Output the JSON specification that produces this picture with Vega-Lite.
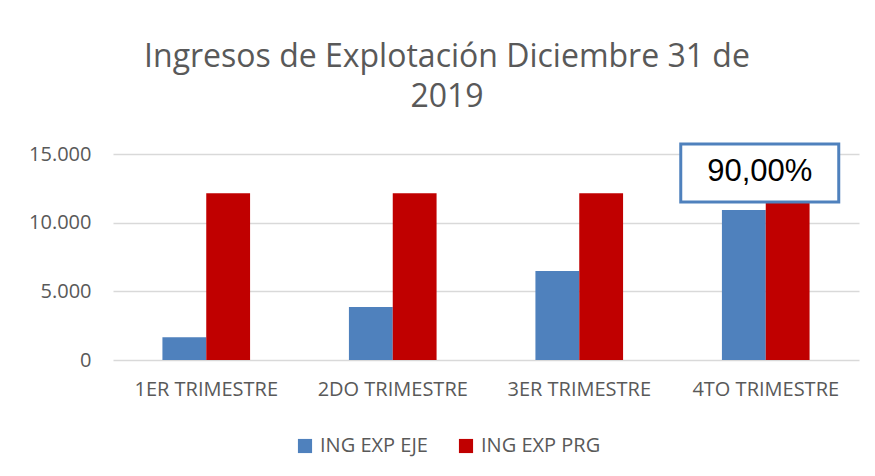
{
  "$schema": "https://vega.github.io/schema/vega-lite/v6.json",
  "width": 746,
  "height": 206,
  "autosize": {"type": "none"},
  "padding": {"top": 154, "left": 113, "right": 16, "bottom": 116},
  "background": "white",
  "config": {
    "view": {"stroke": null},
    "locale": {"number": {"decimal": ",", "thousands": ".", "grouping": [3], "currency": ["$", ""]}},
    "font": "Open Sans"
  },
  "title": {
    "text": ["Ingresos de Explotación Diciembre 31 de", "2019"],
    "fontSize": 32,
    "fontWeight": "normal",
    "color": "#595959",
    "font": "Open Sans",
    "anchor": "middle",
    "frame": "group",
    "dx": -39,
    "lineHeight": 40,
    "offset": 28
  },
  "datasets": {
    "bars": [
      {"trimestre": "1ER TRIMESTRE", "serie": "ING EXP EJE", "valor": 1650},
      {"trimestre": "1ER TRIMESTRE", "serie": "ING EXP PRG", "valor": 12138},
      {"trimestre": "2DO TRIMESTRE", "serie": "ING EXP EJE", "valor": 3860},
      {"trimestre": "2DO TRIMESTRE", "serie": "ING EXP PRG", "valor": 12138},
      {"trimestre": "3ER TRIMESTRE", "serie": "ING EXP EJE", "valor": 6480},
      {"trimestre": "3ER TRIMESTRE", "serie": "ING EXP PRG", "valor": 12138},
      {"trimestre": "4TO TRIMESTRE", "serie": "ING EXP EJE", "valor": 10924},
      {"trimestre": "4TO TRIMESTRE", "serie": "ING EXP PRG", "valor": 12138}
    ],
    "nota": [
      {"trimestre": "4TO TRIMESTRE", "arriba": 15730, "abajo": 11505, "centro": 13690, "texto": "90,00%"}
    ]
  },
  "layer": [
    {
      "data": {"name": "bars"},
      "mark": {"type": "bar"},
      "encoding": {
        "x": {
          "field": "trimestre", "type": "nominal", "sort": null,
          "scale": {"paddingInner": 0.53, "paddingOuter": 0.265},
          "axis": {"title": null, "labelAngle": 0, "ticks": false, "domain": false,
                   "labelFontSize": 20, "labelColor": "#595959", "labelPadding": 19, "labelFont": "Open Sans"}
        },
        "xOffset": {"field": "serie", "type": "nominal", "sort": null, "scale": {"paddingInner": 0, "paddingOuter": 0}},
        "y": {
          "field": "valor", "type": "quantitative",
          "scale": {"domain": [0, 15000], "nice": false},
          "axis": {"title": null, "values": [0, 5000, 10000, 15000], "format": ",d", "ticks": false, "domain": false,
                   "labelFontSize": 20, "labelColor": "#595959", "labelPadding": 22, "labelFont": "Open Sans",
                   "gridColor": "#d9d9d9", "gridWidth": 1.5}
        },
        "color": {
          "field": "serie", "type": "nominal",
          "scale": {"domain": ["ING EXP EJE", "ING EXP PRG"], "range": ["#4F81BD", "#C00000"]},
          "legend": {"title": null, "orient": "none", "legendX": 182, "legendY": 282, "direction": "horizontal",
                     "symbolType": "square", "symbolSize": 200, "symbolStrokeWidth": 0, "labelFontSize": 20,
                     "labelColor": "#595959", "labelFont": "Open Sans", "columnPadding": 28, "labelOffset": 5, "padding": 0}
        }
      }
    },
    {
      "data": {"name": "nota"},
      "mark": {"type": "bar", "width": 158, "xOffset": -6, "fill": "white", "stroke": "#4F81BD", "strokeWidth": 3},
      "encoding": {
        "x": {"field": "trimestre", "type": "nominal", "sort": null},
        "y": {"field": "arriba", "type": "quantitative"},
        "y2": {"field": "abajo"}
      }
    },
    {
      "data": {"name": "nota"},
      "mark": {"type": "text", "fontSize": 31, "font": "Liberation Sans", "color": "black", "baseline": "middle", "align": "center", "xOffset": -6},
      "encoding": {
        "x": {"field": "trimestre", "type": "nominal", "sort": null},
        "y": {"field": "centro", "type": "quantitative"},
        "text": {"field": "texto"}
      }
    }
  ]
}
